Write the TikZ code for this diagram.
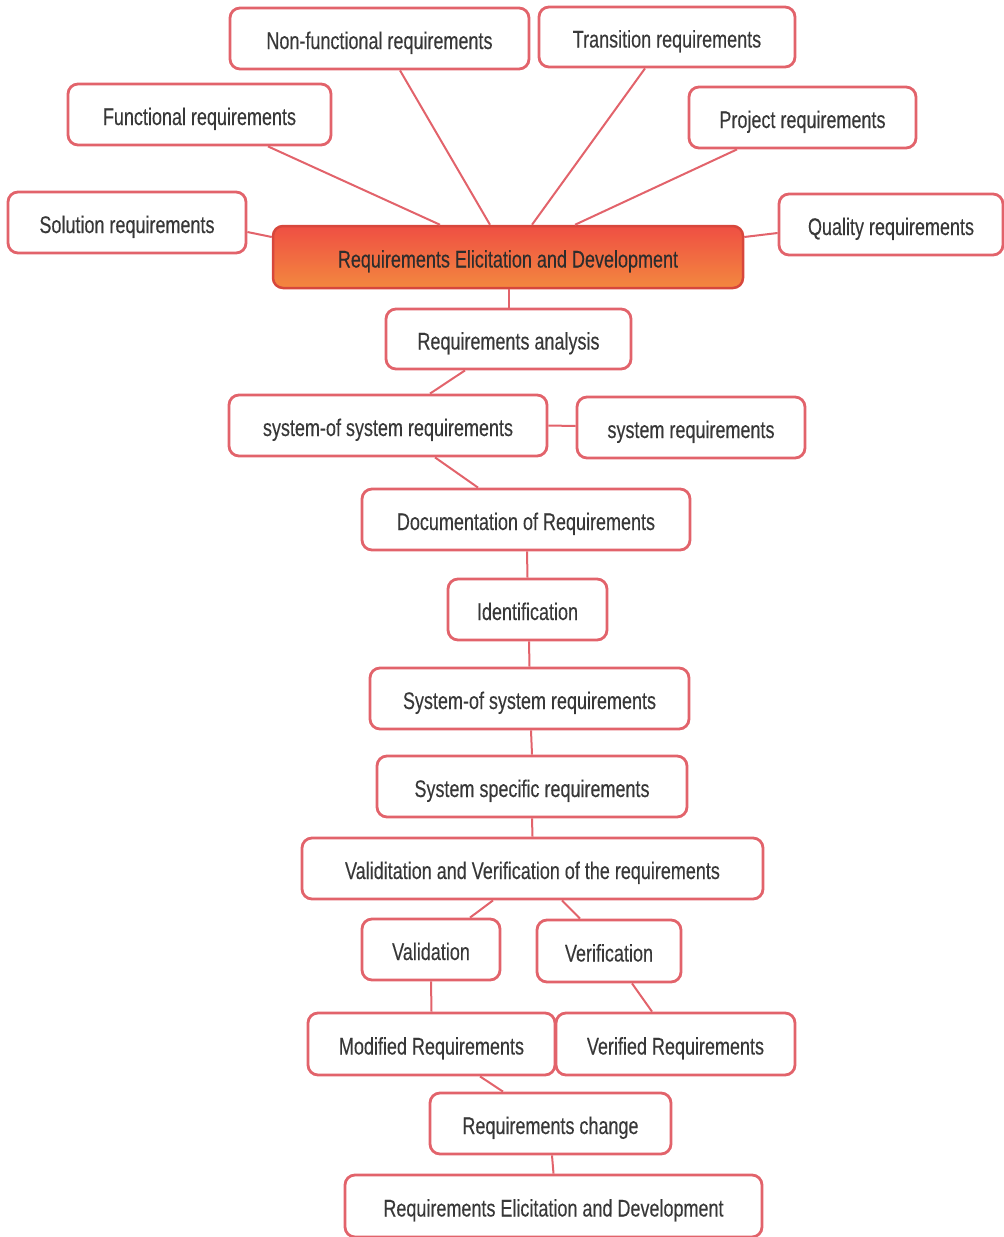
\documentclass[tikz,border=0pt]{standalone}
\usepackage{fontspec}
\setmainfont{Liberation Sans}[FakeStretch=0.75,FakeBold=0.2]
\definecolor{edge}{HTML}{E2636B}
\definecolor{ink}{HTML}{383838}
\definecolor{hubtop}{HTML}{EF4F43}
\definecolor{hubbot}{HTML}{F3883F}
\begin{document}
\begin{tikzpicture}[x=1pt,y=-1pt,
  box/.style={draw=edge,line width=2.8pt,rounded corners=10pt,fill=white,
    text=ink,font=\fontsize{24}{27}\selectfont,inner sep=0pt,align=center,
    text height=21pt,text depth=0pt},
  hub/.style={draw=hubtop!90!black,line width=2.5pt,rounded corners=10pt,
    top color=hubtop,bottom color=hubbot,text=ink!80!black,
    font=\fontsize{24}{27}\selectfont,inner sep=0pt,
    text height=21pt,text depth=0pt},
  link/.style={draw=edge,line width=2pt}]
\useasboundingbox (0,0) rectangle (1004,1237);

% --- boxes ---
\node[box,minimum width=299pt,minimum height=61pt] (nonf) at (379.5,38.5) {Non-functional requirements};
\node[box,minimum width=256pt,minimum height=60pt] (trans) at (667,37) {Transition requirements};
\node[box,minimum width=263pt,minimum height=61pt] (func) at (199.5,114.5) {Functional requirements};
\node[box,minimum width=227pt,minimum height=61pt] (proj) at (802.5,117.5) {Project requirements};
\node[box,minimum width=238pt,minimum height=61pt] (sol) at (127,222.5) {Solution requirements};
\node[box,minimum width=224pt,minimum height=61pt] (qual) at (891,224.5) {Quality requirements};
\node[hub,minimum width=470pt,minimum height=62pt] (hub) at (508,257) {Requirements Elicitation and Development};
\node[box,minimum width=245pt,minimum height=60pt] (anal) at (508.5,339) {Requirements analysis};
\node[box,minimum width=318pt,minimum height=61pt] (sos) at (388,425.5) {system-of system requirements};
\node[box,minimum width=228pt,minimum height=61pt] (sys) at (691,427.5) {system requirements};
\node[box,minimum width=328pt,minimum height=61pt] (doc) at (526,519.5) {Documentation of Requirements};
\node[box,minimum width=159pt,minimum height=61pt] (ident) at (527.5,609.5) {Identification};
\node[box,minimum width=319pt,minimum height=61pt] (sosb) at (529.5,698.5) {System-of system requirements};
\node[box,minimum width=310pt,minimum height=61pt] (spec) at (532,786.5) {System specific requirements};
\node[box,minimum width=461pt,minimum height=61pt] (vv) at (532.5,868.5) {Validitation and Verification of the requirements};
\node[box,minimum width=138pt,minimum height=61pt] (val) at (431,949.5) {Validation};
\node[box,minimum width=144pt,minimum height=62pt] (ver) at (609,951) {Verification};
\node[box,minimum width=247pt,minimum height=62pt] (mod) at (431.5,1044) {Modified Requirements};
\node[box,minimum width=239pt,minimum height=62pt] (verd) at (675.5,1044) {Verified Requirements};
\node[box,minimum width=241pt,minimum height=61pt] (chg) at (550.5,1123.5) {Requirements change};
\node[box,minimum width=417pt,minimum height=62pt] (fin) at (553.5,1206) {Requirements Elicitation and Development};

% --- connectors ---
\draw[link] ([xshift=68.5pt]func.south) -- ([xshift=-68pt]hub.north);
\draw[link] ([xshift=20.5pt]nonf.south) -- ([xshift=-18pt]hub.north);
\draw[link] ([xshift=-22pt]trans.south) -- ([xshift=24pt]hub.north);
\draw[link] ([xshift=-65.5pt]proj.south) -- ([xshift=67pt]hub.north);
\draw[link] ([yshift=-9.5pt]sol.east) -- ([yshift=20pt]hub.west);
\draw[link] ([yshift=-8.5pt]qual.west) -- ([yshift=20pt]hub.east);
\draw[link] ([xshift=1pt]hub.south) -- ([xshift=0.5pt]anal.north);
\draw[link] ([xshift=-43.5pt]anal.south) -- ([xshift=42pt]sos.north);
\draw[link] (sos.east) -- ([yshift=1.5pt]sys.west);
\draw[link] ([xshift=47pt]sos.south) -- ([xshift=-48pt]doc.north);
\draw[link] ([xshift=1pt]doc.south) -- (ident.north);
\draw[link] ([xshift=1.5pt]ident.south) -- (sosb.north);
\draw[link] ([xshift=1.5pt]sosb.south) -- (spec.north);
\draw[link] (spec.south) -- (vv.north);
\draw[link] ([xshift=-39.5pt]vv.south) -- ([xshift=39pt]val.north);
\draw[link] ([xshift=29.5pt]vv.south) -- ([xshift=-29pt]ver.north);
\draw[link] (val.south) -- (mod.north);
\draw[link] ([xshift=23pt]ver.south) -- ([xshift=-23.5pt]verd.north);
\draw[link] ([xshift=48.5pt]mod.south) -- ([xshift=-47.5pt]chg.north);
\draw[link] ([xshift=1.5pt]chg.south) -- (fin.north);
\end{tikzpicture}
\end{document}
